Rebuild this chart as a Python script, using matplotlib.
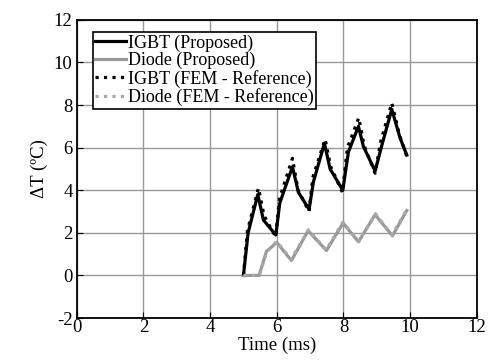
import numpy as np
import matplotlib
matplotlib.use("Agg")
from matplotlib import pyplot as plt

plt.rcParams['font.family'] = ['Liberation Serif', 'DejaVu Serif']
plt.rcParams['axes.unicode_minus'] = False

# IGBT, proposed model
t_igbt = [5.0, 5.14, 5.43, 5.6, 5.97, 6.09, 6.47, 6.65, 6.97, 7.1, 7.43, 7.6,
          7.98, 8.15, 8.45, 8.6, 8.95, 9.15, 9.45, 9.7, 9.9]
dT_igbt = [0.0, 2.0, 3.8, 2.6, 1.9, 3.4, 5.1, 3.9, 3.1, 4.4, 6.2, 5.0,
           4.0, 5.8, 7.0, 6.05, 4.9, 6.1, 7.8, 6.45, 5.65]

# IGBT, FEM reference
t_igbt_ref = [5.0, 5.12, 5.45, 5.62, 5.97, 6.08, 6.47, 6.64, 6.97, 7.08, 7.45, 7.62,
              7.97, 8.12, 8.46, 8.62, 8.95, 9.12, 9.45, 9.68, 9.9]
dT_igbt_ref = [0.0, 2.1, 4.1, 2.8, 1.8, 3.6, 5.5, 4.0, 3.0, 4.6, 6.4, 5.1,
               3.9, 6.0, 7.4, 6.1, 4.8, 6.3, 8.1, 6.6, 5.6]

# Diode, proposed model
t_diode = [5.0, 5.47, 5.69, 6.0, 6.44, 6.94, 7.49, 7.99, 8.45, 8.95, 9.47, 9.9]
dT_diode = [0.0, 0.0, 1.13, 1.55, 0.7, 2.1, 1.17, 2.46, 1.58, 2.85, 1.86, 3.05]

# Diode, FEM reference
t_diode_ref = [5.0, 5.47, 5.7, 6.0, 6.43, 6.95, 7.48, 7.98, 8.46, 8.96, 9.46, 9.9]
dT_diode_ref = [0.0, 0.0, 1.1, 1.6, 0.75, 2.15, 1.2, 2.5, 1.6, 2.9, 1.9, 3.1]

fig = plt.figure(figsize=(4.89, 3.61), dpi=100)
ax = fig.add_axes([0.157, 0.119, 0.818, 0.826])

ax.plot(t_igbt, dT_igbt, color='black', lw=2.3, label='IGBT (Proposed)')
ax.plot(t_diode, dT_diode, color='#999999', lw=2.3, label='Diode (Proposed)')
ax.plot(t_igbt_ref, dT_igbt_ref, color='black', lw=2.3, ls=':', label='IGBT (FEM - Reference)')
ax.plot(t_diode_ref, dT_diode_ref, color='#aaaaaa', lw=2.3, ls=':', label='Diode (FEM - Reference)')

ax.set_xlim(0, 12)
ax.set_ylim(-2, 12)
ax.set_xticks(np.arange(0, 13, 2))
ax.set_yticks(np.arange(-2, 13, 2))
ax.grid(True, color='#999999', lw=1)
ax.tick_params(axis='both', labelsize=13.5, direction='in', length=4)
ax.tick_params(axis='x', pad=1)
ax.tick_params(axis='y', pad=3)
for s in ax.spines.values():
    s.set_linewidth(1.3)

ax.set_xlabel('Time (ms)', fontsize=13.5, labelpad=0)
ax.set_ylabel('ΔT (ºC)', fontsize=13.5, labelpad=4)

leg = ax.legend(loc='upper left', bbox_to_anchor=(0.04, 0.96), fontsize=13,
                frameon=True, fancybox=False, framealpha=1, edgecolor='black',
                handlelength=1.7, handletextpad=0.1, borderpad=0.15,
                labelspacing=0.02, borderaxespad=0)
leg.get_frame().set_linewidth(1.2)

fig.savefig('out.png', dpi=100)
